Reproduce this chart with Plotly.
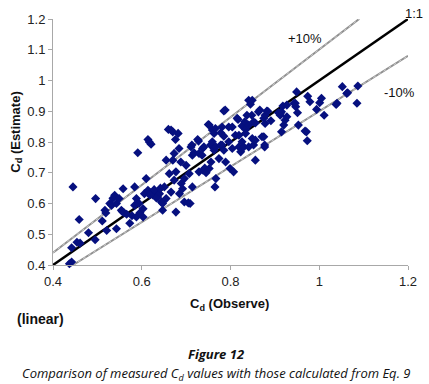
import plotly.graph_objects as go

cd_observe = [
    0.437, 0.442, 0.442, 0.445, 0.454, 0.461, 0.459, 0.480, 0.495, 0.496, 0.511, 0.517,
    0.521, 0.519, 0.528, 0.532, 0.535, 0.539, 0.543, 0.543, 0.549, 0.554, 0.556, 0.558,
    0.560, 0.566, 0.573, 0.578, 0.584, 0.584, 0.588, 0.588, 0.591, 0.594, 0.596, 0.603,
    0.603,
    0.606, 0.610, 0.614, 0.614, 0.617, 0.621, 0.620, 0.625, 0.630, 0.636, 0.640, 0.644,
    0.647, 0.647, 0.651, 0.655, 0.655, 0.660, 0.662, 0.666, 0.666, 0.670, 0.670, 0.673,
    0.673, 0.676, 0.677, 0.677, 0.682, 0.684, 0.685, 0.688, 0.689, 0.692, 0.696, 0.696,
    0.700, 0.628, 0.633, 0.618, 0.642,
    0.705, 0.707, 0.709, 0.711, 0.714, 0.713, 0.714, 0.718, 0.726, 0.728, 0.729, 0.729,
    0.736, 0.737, 0.738, 0.740, 0.742, 0.745, 0.750, 0.752, 0.752, 0.755, 0.756, 0.758,
    0.759, 0.759, 0.763, 0.763, 0.766, 0.765, 0.767, 0.767, 0.774, 0.778, 0.778, 0.781,
    0.781, 0.785, 0.788, 0.785, 0.785, 0.789, 0.796, 0.796, 0.799,
    0.804, 0.804, 0.807, 0.811, 0.815, 0.817, 0.819, 0.819, 0.823, 0.826, 0.826, 0.830,
    0.832, 0.834, 0.834, 0.837, 0.841, 0.841, 0.841, 0.845, 0.848, 0.849, 0.849, 0.852,
    0.852, 0.856, 0.856, 0.856, 0.863, 0.866, 0.871, 0.875, 0.875, 0.877, 0.877, 0.878,
    0.878, 0.882, 0.884, 0.891,
    0.908, 0.912, 0.912, 0.915, 0.915, 0.918, 0.920, 0.923, 0.927, 0.927, 0.943, 0.946,
    0.947, 0.949, 0.951, 0.953, 0.968, 0.971, 0.973, 0.974, 0.979, 0.994, 1.001, 1.005,
    1.011, 1.038, 1.040, 1.052, 1.062, 1.064, 1.085, 1.087,
]
cd_estimate = [
    0.404, 0.410, 0.456, 0.654, 0.474, 0.471, 0.548, 0.505, 0.482, 0.616, 0.543, 0.578,
    0.512, 0.569, 0.600, 0.594, 0.617, 0.627, 0.518, 0.600, 0.616, 0.578, 0.574, 0.648,
    0.570, 0.565, 0.536, 0.560, 0.594, 0.654, 0.616, 0.556, 0.765, 0.600, 0.570, 0.583,
    0.556,
    0.632, 0.681, 0.643, 0.808, 0.800, 0.793, 0.635, 0.628, 0.640, 0.621, 0.632, 0.605,
    0.578, 0.600, 0.654, 0.616, 0.741, 0.841, 0.697, 0.637, 0.839, 0.741, 0.833, 0.676,
    0.763, 0.808, 0.572, 0.703, 0.828, 0.779, 0.632, 0.735, 0.665, 0.648, 0.681, 0.605,
    0.724, 0.645, 0.618, 0.628, 0.650,
    0.602, 0.697, 0.600, 0.784, 0.757, 0.790, 0.654, 0.765, 0.808, 0.803, 0.703, 0.763,
    0.757, 0.779, 0.708, 0.784, 0.715, 0.700, 0.857, 0.855, 0.714, 0.790, 0.735, 0.790,
    0.839, 0.801, 0.828, 0.773, 0.844, 0.654, 0.784, 0.681, 0.746, 0.830, 0.790, 0.790,
    0.849, 0.901, 0.904, 0.773, 0.819, 0.735, 0.849, 0.801, 0.714,
    0.779, 0.849, 0.703, 0.822, 0.877, 0.873, 0.784, 0.822, 0.768, 0.801, 0.852, 0.784,
    0.866, 0.841, 0.828, 0.887, 0.936, 0.855, 0.784, 0.923, 0.887, 0.811, 0.936, 0.866,
    0.790, 0.862, 0.806, 0.741, 0.898, 0.904, 0.817, 0.877, 0.817, 0.784, 0.790, 0.887,
    0.860, 0.901, 0.900, 0.869,
    0.895, 0.887, 0.893, 0.898, 0.833, 0.917, 0.855, 0.871, 0.920, 0.882, 0.926, 0.926,
    0.915, 0.963, 0.895, 0.855, 0.836, 0.833, 0.804, 0.949, 0.931, 0.906, 0.928, 0.942,
    0.887, 0.922, 0.926, 0.980, 0.958, 0.960, 0.926, 0.982,
]

# Reference lines (observe -> estimate)
line_1to1_x = [0.4, 1.2]
line_1to1_y = [0.4, 1.2]
line_plus10_x = [0.4, 1.09]
line_plus10_y = [0.44, 1.2]
line_minus10_x = [0.445, 1.2]
line_minus10_y = [0.40, 1.08]

axis_ticks = [0.4, 0.6, 0.8, 1.0, 1.2]
axis_ticktext = ["0.4", "0.6", "0.8", "1", "1.2"]
y_ticks = [0.4, 0.5, 0.6, 0.7, 0.8, 0.9, 1.0, 1.1, 1.2]
y_ticktext = ["0.4", "0.5", "0.6", "0.7", "0.8", "0.9", "1", "1.1", "1.2"]

fig = go.Figure()

for lx, ly in [(line_plus10_x, line_plus10_y), (line_minus10_x, line_minus10_y)]:
    fig.add_trace(go.Scatter(x=lx, y=ly, mode="lines",
                             line=dict(color="#8f8f8f", width=2.0), hoverinfo="skip"))
    fig.add_trace(go.Scatter(x=lx, y=ly, mode="lines",
                             line=dict(color="#e4e4e4", width=0.7, dash="dot"), hoverinfo="skip"))

fig.add_trace(go.Scatter(x=line_1to1_x, y=line_1to1_y, mode="lines",
                         line=dict(color="black", width=2.5), hoverinfo="skip"))

fig.add_trace(go.Scatter(x=cd_observe, y=cd_estimate, mode="markers",
                         marker=dict(symbol="diamond", size=7, color="#06107f"),
                         cliponaxis=False))

axis_font = dict(family="Liberation Sans, Arial, sans-serif", size=13, color="#222")

fig.update_layout(
    width=429, height=384,
    margin=dict(l=53, r=18, t=19, b=119),
    paper_bgcolor="white", plot_bgcolor="white",
    showlegend=False,
    font=axis_font,
    xaxis=dict(range=[0.4, 1.2], tickvals=axis_ticks, ticktext=axis_ticktext,
               showgrid=False, zeroline=False, showline=True, linecolor="#a8a8a8",
               linewidth=1, ticks="outside", ticklen=4, tickcolor="#a8a8a8",
               tickfont=axis_font),
    yaxis=dict(range=[0.4, 1.2], tickvals=y_ticks, ticktext=y_ticktext,
               showgrid=False, zeroline=False, showline=True, linecolor="#a8a8a8",
               linewidth=1, ticks="outside", ticklen=4, tickcolor="#a8a8a8",
               tickfont=axis_font),
)

def px_x(p):
    return (p - 52.7) / 358.0

def px_y(p):
    return (264.5 - p) / 245.2

ann = [
    dict(text="1:1", x=px_x(417), y=px_y(14), size=13),
    dict(text="+10%", x=px_x(307), y=px_y(39), size=13),
    dict(text="-10%", x=px_x(402), y=px_y(93), size=13),
    dict(text="<b>C<sub>d</sub> (Observe)</b>", x=px_x(231), y=px_y(304), size=13),
    dict(text="<b>(linear)</b>", x=px_x(40), y=px_y(318), size=14),
    dict(text="<b><i>Figure 12</i></b>", x=px_x(217), y=px_y(353), size=13,
         family="Open Sans, sans-serif"),
    dict(text="<i>Comparison of measured C<sub>d</sub> values with those calculated from Eq. 9</i>",
         x=px_x(217), y=px_y(373), size=13, family="Open Sans, sans-serif"),
]
for a in ann:
    fig.add_annotation(text=a["text"], x=a["x"], y=a["y"], xref="paper", yref="paper",
                       showarrow=False, xanchor="center", yanchor="middle",
                       font=dict(size=a["size"], color="#111",
                                 family=a.get("family", "Liberation Sans, Arial, sans-serif")))

fig.add_annotation(text="<b>C<sub>d</sub> (Estimate)</b>", x=px_x(15), y=px_y(132),
                   xref="paper", yref="paper", showarrow=False, textangle=-90,
                   xanchor="center", yanchor="middle",
                   font=dict(size=13, color="#111", family="Liberation Sans, Arial, sans-serif"))

fig.write_html("out.html", config={"displayModeBar": False},
               post_script="document.body.style.margin='0px';document.body.style.overflow='hidden';")
